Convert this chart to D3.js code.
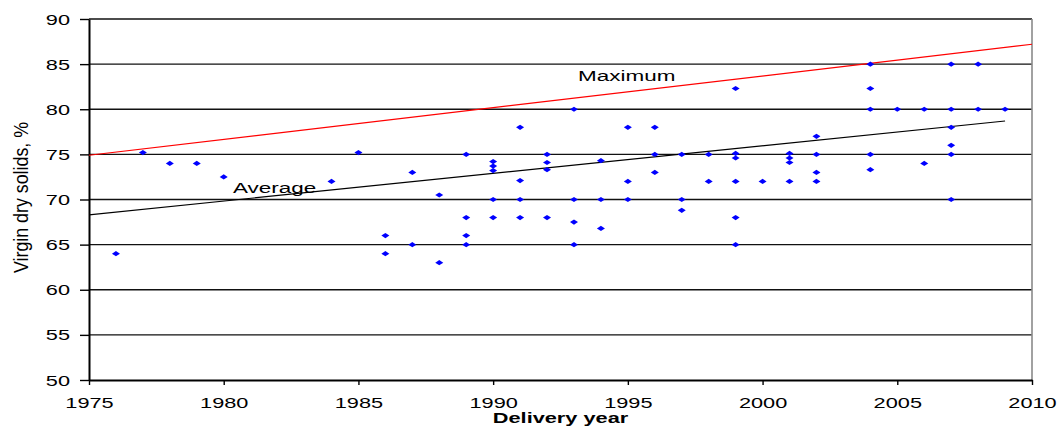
<!DOCTYPE html>
<html>
<head>
<meta charset="utf-8">
<script src="https://cdn.jsdelivr.net/npm/d3@7"></script>
<style>
  html, body { margin: 0; padding: 0; background: #fff; }
  svg { display: block; }
  text { font-family: "Liberation Sans", Arial, sans-serif; fill: #000; }
</style>
</head>
<body>
<svg id="chart" width="1063" height="427"></svg>
<script>
// Delivery year and virgin dry solids (%) of each delivered unit
const deliveryYears = [
  1976, 1977, 1978, 1979, 1980, 1984, 1985,
  1986, 1986, 1987, 1987, 1988, 1988,
  1989, 1989, 1989, 1989,
  1990, 1990, 1990, 1990, 1990,
  1991, 1991, 1991, 1991,
  1992, 1992, 1992, 1992,
  1993, 1993, 1993, 1993,
  1994, 1994, 1994,
  1995, 1995, 1995,
  1996, 1996, 1996,
  1997, 1997, 1997,
  1998, 1998,
  1999, 1999, 1999, 1999, 1999, 1999,
  2000,
  2001, 2001, 2001, 2001,
  2002, 2002, 2002, 2002,
  2004, 2004, 2004, 2004, 2004,
  2005,
  2006, 2006,
  2007, 2007, 2007, 2007, 2007, 2007,
  2008, 2008,
  2009
];
const drySolids = [
  64, 75.2, 74, 74, 72.5, 72, 75.2,
  66, 64, 73, 65, 70.5, 63,
  75, 68, 66, 65,
  74.2, 73.7, 73.2, 70, 68,
  78, 72.1, 70, 68,
  75, 74.1, 73.3, 68,
  80, 70, 67.5, 65,
  74.3, 70, 66.8,
  78, 72, 70,
  78, 75, 73,
  75, 70, 68.8,
  75, 72,
  82.3, 75.1, 74.6, 72, 68, 65,
  72,
  75.1, 74.6, 74.1, 72,
  77, 75, 73, 72,
  85, 82.3, 80, 75, 73.3,
  80,
  80, 74,
  85, 80, 78, 76, 75, 70,
  85, 80,
  80
];

// Trend lines: end points (year, %)
const maximumYears = [1975, 2010];
const maximumValues = [74.9, 87.2];
const averageYears = [1975, 2009];
const averageValues = [68.3, 78.7];

// Axis ticks
const yearTicks = [1975, 1980, 1985, 1990, 1995, 2000, 2005, 2010];
const solidsTicks = [50, 55, 60, 65, 70, 75, 80, 85, 90];

const svg = d3.select("#chart");
const margin = { left: 89, right: 31, top: 19, bottom: 47 };
const W = 1063, H = 427;
const stretch = 1.45;

const x = d3.scaleLinear().domain([1975, 2010]).range([margin.left, W - margin.right]);
const y = d3.scaleLinear().domain([50, 90]).range([H - margin.bottom, margin.top]);

// horizontal gridlines
svg.append("g")
  .selectAll("line")
  .data(solidsTicks.filter(d => d > 50))
  .join("line")
  .attr("x1", x(1975)).attr("x2", x(2010))
  .attr("y1", d => y(d)).attr("y2", d => y(d))
  .attr("stroke", "#111").attr("stroke-width", 1.4);

// plot area right border
svg.append("line")
  .attr("x1", x(2010)).attr("x2", x(2010))
  .attr("y1", y(90)).attr("y2", y(50))
  .attr("stroke", "#8a8a8a").attr("stroke-width", 1.6);

// y axis
const gy = svg.append("g")
  .attr("transform", `translate(${x(1975)},0)`)
  .call(d3.axisLeft(y).tickValues(solidsTicks).tickSize(9).tickSizeOuter(0).tickPadding(0));
gy.select(".domain").attr("stroke", "#000").attr("stroke-width", 2);
gy.selectAll(".tick line").attr("stroke", "#000").attr("stroke-width", 1.4);
gy.selectAll(".tick text")
  .attr("x", -19 / stretch)
  .attr("dy", "0.34em")
  .attr("transform", `scale(${stretch},1)`)
  .style("font-size", "15px")
  .style("font-family", "'Liberation Sans', Arial, sans-serif")
  .attr("fill", "#000");

// x axis
const gx = svg.append("g")
  .attr("transform", `translate(0,${y(50)})`)
  .call(d3.axisBottom(x).tickValues(yearTicks).tickFormat(d3.format("d")).tickSize(5).tickSizeOuter(0));
gx.select(".domain").attr("stroke", "#000").attr("stroke-width", 2);
gx.selectAll(".tick line").attr("stroke", "#000").attr("stroke-width", 1.4);
gx.selectAll(".tick text")
  .attr("y", 28)
  .attr("dy", 0)
  .attr("transform", `scale(${stretch},1)`)
  .style("font-size", "15px")
  .style("font-family", "'Liberation Sans', Arial, sans-serif")
  .attr("fill", "#000");

// trend lines
const line = d3.line().x(d => x(d[0])).y(d => y(d[1]));
svg.append("path")
  .datum(averageYears.map((yr, i) => [yr, averageValues[i]]))
  .attr("d", line)
  .attr("fill", "none").attr("stroke", "#000").attr("stroke-width", 1.2);
svg.append("path")
  .datum(maximumYears.map((yr, i) => [yr, maximumValues[i]]))
  .attr("d", line)
  .attr("fill", "none").attr("stroke", "#ff0000").attr("stroke-width", 1.2);

// data points as small diamonds
svg.append("g")
  .selectAll("path")
  .data(deliveryYears.map((yr, i) => [yr, drySolids[i]]))
  .join("path")
  .attr("transform", d => `translate(${x(d[0])},${y(d[1])})`)
  .attr("d", "M-4,0L0,-2.6L4,0L0,2.6Z")
  .attr("fill", "#0000ff");

// trend line labels
svg.append("text")
  .attr("transform", `translate(578,81) scale(${stretch},1)`)
  .style("font-size", "15.5px")
  .text("Maximum");
svg.append("text")
  .attr("transform", `translate(233,193) scale(${stretch},1)`)
  .style("font-size", "15.5px")
  .text("Average");

// axis titles
svg.append("text")
  .attr("transform", `translate(${(x(1975) + x(2010)) / 2},423) scale(${stretch},1)`)
  .attr("text-anchor", "middle")
  .style("font-size", "15px")
  .style("font-weight", "bold")
  .text("Delivery year");
svg.append("text")
  .attr("transform", "translate(28,197.5) rotate(-90) scale(1,1.35)")
  .attr("text-anchor", "middle")
  .attr("textLength", 151)
  .attr("lengthAdjust", "spacingAndGlyphs")
  .style("font-size", "15px")
  .text("Virgin dry solids, %");
</script>
</body>
</html>
